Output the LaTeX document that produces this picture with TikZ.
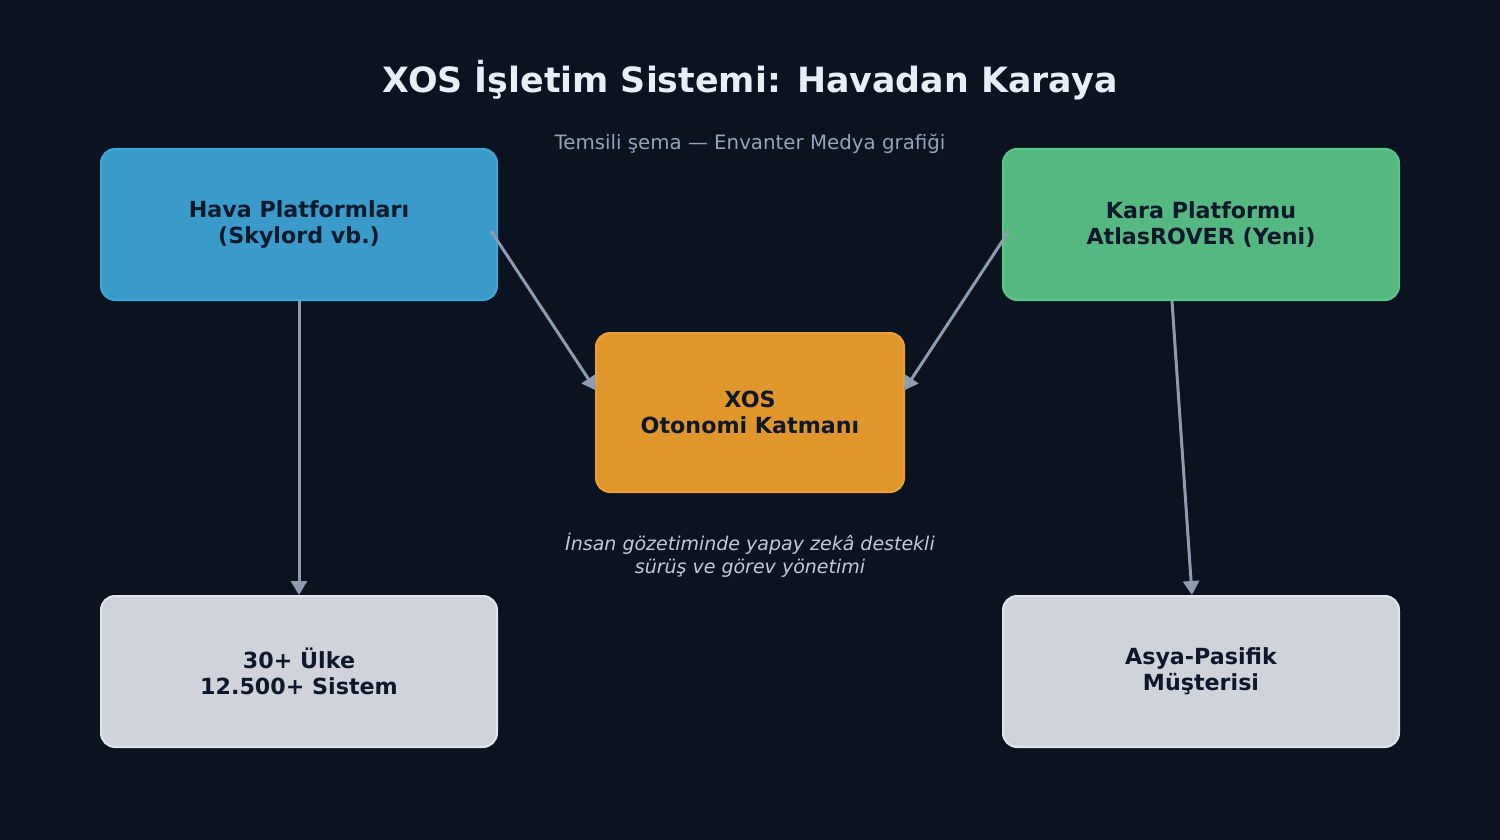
\documentclass[tikz,border=0pt]{standalone}
\usepackage{fontspec}
\setmainfont{DejaVu Sans}
\usetikzlibrary{arrows.meta,calc}
\definecolor{bg}{HTML}{0B1220}
\definecolor{titlec}{HTML}{E8EEF8}
\definecolor{subc}{HTML}{94A3B8}
\definecolor{notec}{HTML}{C3CAD6}
\definecolor{arrowc}{HTML}{8E9BB0}
\definecolor{bluef}{HTML}{3A9BCB}
\definecolor{blued}{HTML}{40A6D8}
\definecolor{greenf}{HTML}{55B880}
\definecolor{greend}{HTML}{5CC588}
\definecolor{orangef}{HTML}{E0962B}
\definecolor{oranged}{HTML}{EBA033}
\definecolor{greyf}{HTML}{CFD3DC}
\definecolor{greyd}{HTML}{E2E5EC}
\definecolor{darktext}{HTML}{0F172A}
\definecolor{bluetext}{HTML}{0B1A2A}
\tikzset{
  box/.style={rounded corners=7pt, line width=1pt, minimum width=198pt, minimum height=75.5pt,
    align=center, font=\bfseries\fontsize{11.1}{13.2}\selectfont, text=darktext, inner sep=0pt},
  conn/.style={draw=arrowc, line width=1.5pt, -{Triangle[length=7pt,width=8pt]}}
}
\begin{document}
\begin{tikzpicture}[x=0.5pt,y=-0.5pt]
\useasboundingbox (0,0) rectangle (1500,840);
\fill[bg] (0,0) rectangle (1500,840);
\node[font=\bfseries\fontsize{17.4}{21}\selectfont, text=titlec] (title) at (750,80) {XOS İşletim Sistemi: Havadan Karaya};
\node[font=\fontsize{9.9}{12}\selectfont, text=subc] (sub) at (750,143.5) {Temsili şema — Envanter Medya grafiği};
\node[box, fill=bluef, draw=blued, text=bluetext] (hava) at (299,224.5) {Hava Platformları\\(Skylord vb.)};
\node[box, fill=greenf, draw=greend] (kara) at (1201,224.5) {Kara Platformu\\AtlasROVER (Yeni)};
\node[box, fill=orangef, draw=oranged, minimum width=154pt, minimum height=79.5pt] (xos) at (750,412.5) {XOS\\Otonomi Katmanı};
\node[box, fill=greyf, draw=greyd] (bl) at (299,671.5) {30+ Ülke\\12.500+ Sistem};
\node[box, fill=greyf, draw=greyd] (br) at (1201,671.5) {Asya-Pasifik\\Müşterisi};
\node[font=\itshape\fontsize{9.5}{11.5}\selectfont, text=notec, align=center] (note) at (750,555.5) {İnsan gözetiminde yapay zekâ destekli\\sürüş ve görev yönetimi};
\coordinate (h1) at ($(hava.east)+(-7,6.5)$);
\coordinate (x1) at ($(xos.west)+(1,-22)$);
\coordinate (k1) at ($(kara.west)+(7,6.5)$);
\coordinate (x2) at ($(xos.east)+(-1,-22)$);
\coordinate (k2) at ($(kara.south)+(-29,0)$);
\coordinate (b2) at ($(br.north)+(-9,0)$);
\draw[conn] (h1) -- (x1);
\draw[conn] (k1) -- (x2);
\draw[conn] (hava.south) -- (bl.north);
\draw[conn] (k2) -- (b2);
\end{tikzpicture}
\end{document}
